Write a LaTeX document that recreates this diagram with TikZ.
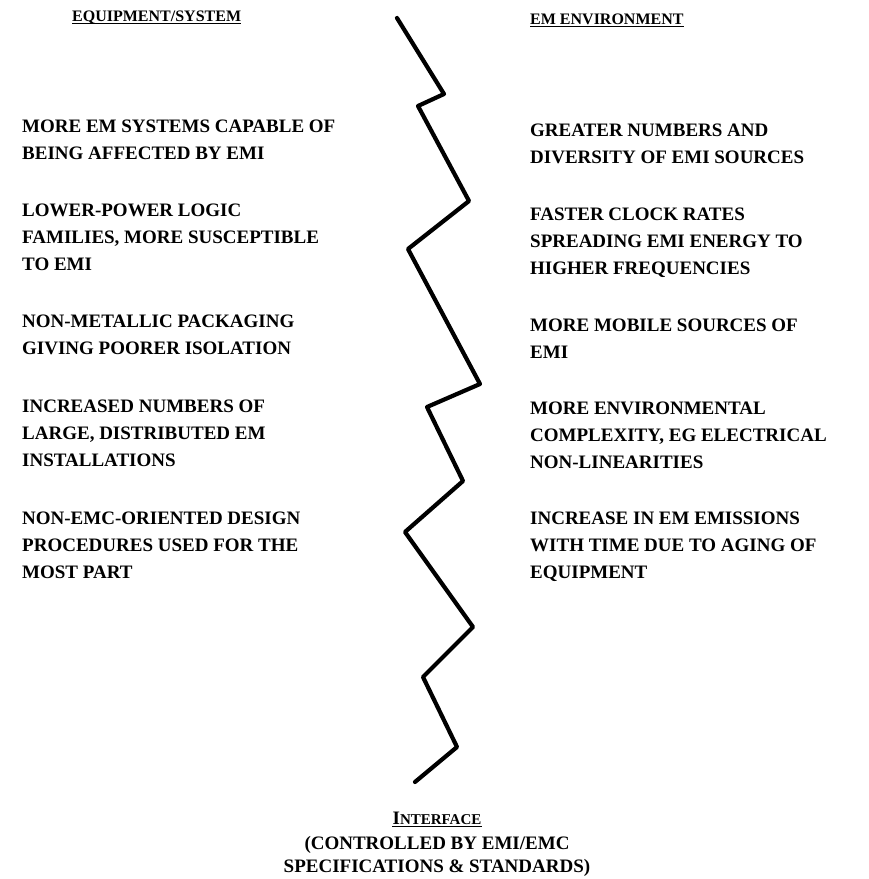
\documentclass[tikz,border=0pt]{standalone}
\usepackage{fontspec}
\setmainfont{Liberation Serif}
\begin{document}
\begin{tikzpicture}[x=1pt,y=-1pt,
  item/.style={anchor=north west, inner sep=0pt, align=left, font=\fontsize{19}{27}\selectfont\bfseries},
  hdr/.style={anchor=base west, inner sep=0pt, font=\fontsize{16}{18}\selectfont\bfseries},
  foot/.style={anchor=base, inner sep=0pt, font=\fontsize{19}{23}\selectfont\bfseries},
  uline/.style={line width=1.4pt},
  zz/.style={line width=4.2pt, line join=round, line cap=round}]
\useasboundingbox (0,0) rectangle (869,879);

% headers
\node[hdr] (h1) at (72,21) {EQUIPMENT/SYSTEM};
\node[hdr] (h2) at (530,24) {EM ENVIRONMENT};
\draw[uline] ([yshift=-2.5pt]h1.base west) -- ([yshift=-2.5pt]h1.base east);
\draw[uline] ([yshift=-2.5pt]h2.base west) -- ([yshift=-2.5pt]h2.base east);

% left column
\node[item] (l1) at (22,119.5) {MORE EM SYSTEMS CAPABLE OF\\BEING AFFECTED BY EMI};
\node[item] (l2) at (22,203.5) {LOWER-POWER LOGIC\\FAMILIES, MORE SUSCEPTIBLE\\TO EMI};
\node[item] (l3) at (22,314.5) {NON-METALLIC PACKAGING\\GIVING POORER ISOLATION};
\node[item] (l4) at (22,399.5) {INCREASED NUMBERS OF\\LARGE, DISTRIBUTED EM\\INSTALLATIONS};
\node[item] (l5) at (22,511.5) {NON-EMC-ORIENTED DESIGN\\PROCEDURES USED FOR THE\\MOST PART};

% right column
\node[item] (r1) at (530,123.5) {GREATER NUMBERS AND\\DIVERSITY OF EMI SOURCES};
\node[item] (r2) at (530,207.5) {FASTER CLOCK RATES\\SPREADING EMI ENERGY TO\\HIGHER FREQUENCIES};
\node[item] (r3) at (530,318.5) {MORE MOBILE SOURCES OF\\EMI};
\node[item] (r4) at (530,401.5) {MORE ENVIRONMENTAL\\COMPLEXITY, EG ELECTRICAL\\NON-LINEARITIES};
\node[item] (r5) at (530,511.5) {INCREASE IN EM EMISSIONS\\WITH TIME DUE TO AGING OF\\EQUIPMENT};

% zigzag interface line
\coordinate (z0) at (397,18);
\coordinate (z1) at (444,94);
\coordinate (z2) at (418,106);
\coordinate (z3) at (469,201);
\coordinate (z4) at (408,249);
\coordinate (z5) at (480,384);
\coordinate (z6) at (427,407);
\coordinate (z7) at (463,481);
\coordinate (z8) at (405,532);
\coordinate (z9) at (473,627);
\coordinate (z10) at (423,677);
\coordinate (z11) at (457,747);
\coordinate (z12) at (415,782);
\draw[zz] (z0) -- (z1) -- (z2) -- (z3) -- (z4) -- (z5) -- (z6) -- (z7) -- (z8) -- (z9) -- (z10) -- (z11) -- (z12);

% footer
\node[foot] (f1) at (437,824) {I{\fontsize{15}{18}\selectfont NTERFACE}};
\draw[uline] ([yshift=-2.5pt]f1.base west) -- ([yshift=-2.5pt]f1.base east);
\node[foot] (f2) at (437,849) {(CONTROLLED BY EMI/EMC};
\node[foot] (f3) at (437,872) {SPECIFICATIONS \& STANDARDS)};
\end{tikzpicture}
\end{document}
